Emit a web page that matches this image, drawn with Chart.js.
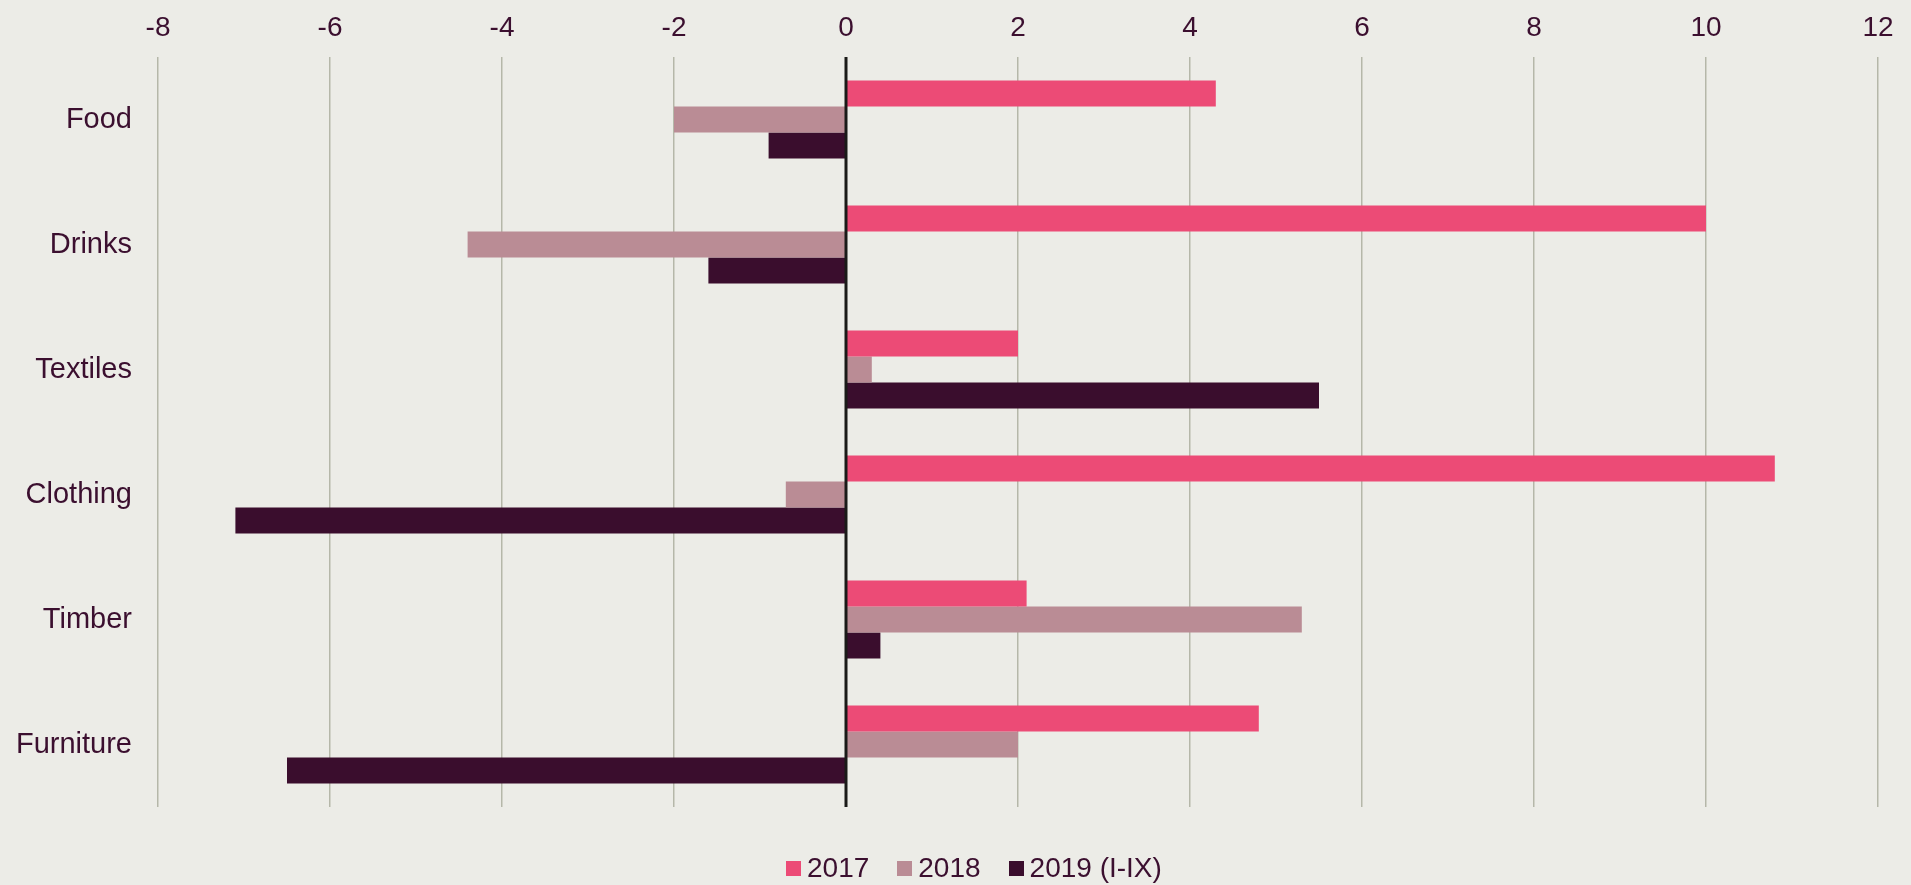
<!DOCTYPE html>
<html>
<head>
<meta charset="utf-8">
<script src="https://cdn.jsdelivr.net/npm/chart.js@4/dist/chart.umd.min.js"></script>
<style>
  html, body { margin: 0; padding: 0; background: #ECECE7; }
  #wrap { position: relative; width: 1911px; height: 885px; }
  #c { position: absolute; left: 0; top: 0; }
  #legend { position: absolute; left: 786px; top: 850px; height: 36px; display: flex; align-items: center;
            font-family: "Liberation Sans", Arial, sans-serif; font-size: 28px; color: #3B0F2F; white-space: nowrap; }
  .item { display: flex; align-items: center; margin-right: 28px; }
  .box { width: 15px; height: 15px; margin-right: 6px; }
</style>
</head>
<body>
<div id="wrap">
  <canvas id="c" width="1911" height="885"></canvas>
  <div id="legend"></div>
</div>
<script>
const categories = ["Food", "Drinks", "Textiles", "Clothing", "Timber", "Furniture"];
const seriesNames = ["2017", "2018", "2019 (I-IX)"];
const values2017 = [4.3, 10.0, 2.0, 10.8, 2.1, 4.8];
const values2018 = [-2.0, -4.4, 0.3, -0.7, 5.3, 2.0];
const values2019 = [-0.9, -1.6, 5.5, -7.1, 0.4, -6.5];
const xTicks = [-8, -6, -4, -2, 0, 2, 4, 6, 8, 10, 12];
const colors = ["#EC4B76", "#BA8C95", "#3A0D2D"];

const textColor = "#3B0F2F";
const fontFam = '"Liberation Sans", Arial, sans-serif';

const zeroLine = {
  id: 'zeroLine',
  afterDatasetsDraw(chart) {
    const x = chart.scales.x.getPixelForValue(0);
    const {top, bottom} = chart.chartArea;
    const ctx = chart.ctx;
    ctx.save();
    ctx.strokeStyle = "#1A1A18";
    ctx.lineWidth = 3;
    ctx.beginPath();
    ctx.moveTo(x, top);
    ctx.lineTo(x, bottom);
    ctx.stroke();
    ctx.restore();
  }
};

const chart = new Chart(document.getElementById('c'), {
  type: 'bar',
  data: {
    labels: categories,
    datasets: [
      { label: seriesNames[0], data: values2017, backgroundColor: colors[0] },
      { label: seriesNames[1], data: values2018, backgroundColor: colors[1] },
      { label: seriesNames[2], data: values2019, backgroundColor: colors[2] }
    ]
  },
  options: {
    indexAxis: 'y',
    responsive: false,
    animation: false,
    devicePixelRatio: 1,
    layout: { padding: { left: 16, right: 33, top: 0, bottom: 78 } },
    datasets: { bar: { categoryPercentage: 0.624, barPercentage: 1.0 } },
    plugins: { legend: { display: false }, tooltip: { enabled: false } },
    scales: {
      x: {
        position: 'top',
        min: -8, max: 12,
        afterBuildTicks(scale) { scale.ticks = xTicks.map(v => ({ value: v })); },
        afterFit(scale) { scale.height = 57; },
        grid: { color: "#B5B7A9", lineWidth: 1.5, drawTicks: false },
        border: { display: false },
        ticks: { color: textColor, font: { family: fontFam, size: 28 }, padding: 12 }
      },
      y: {
        afterFit(scale) { scale.width = 142; },
        grid: { display: false, drawTicks: false },
        border: { display: false },
        ticks: { color: textColor, font: { family: fontFam, size: 29 }, padding: 26 }
      }
    }
  },
  plugins: [zeroLine]
});

const leg = document.getElementById('legend');
chart.data.datasets.forEach(ds => {
  const it = document.createElement('div'); it.className = 'item';
  const b = document.createElement('div'); b.className = 'box'; b.style.background = ds.backgroundColor;
  const t = document.createElement('span'); t.textContent = ds.label;
  it.appendChild(b); it.appendChild(t); leg.appendChild(it);
});
</script>
</body>
</html>
